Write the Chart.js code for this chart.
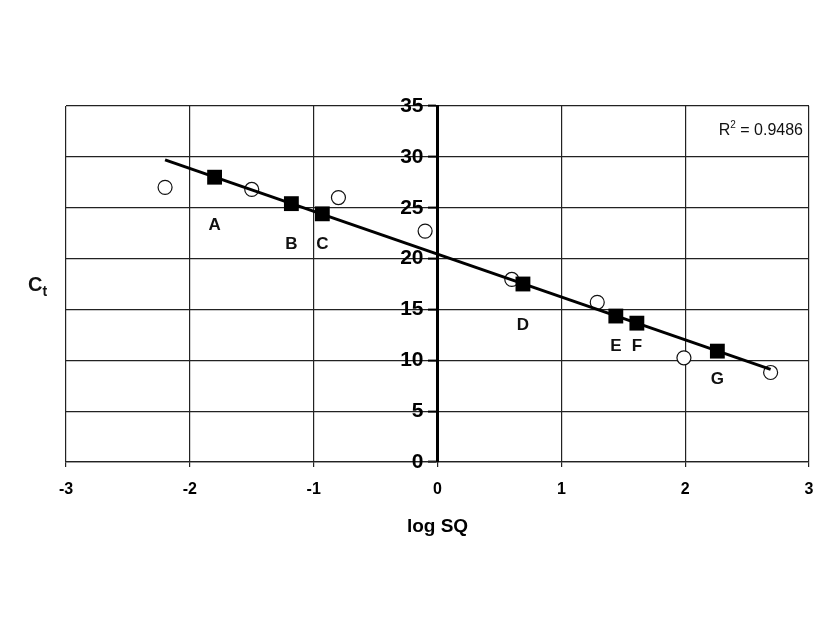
<!DOCTYPE html>
<html>
<head>
<meta charset="utf-8">
<script src="https://cdn.jsdelivr.net/npm/chart.js@4/dist/chart.umd.min.js"></script>
<style>
  html, body { margin: 0; padding: 0; background: #fff; }
  #wrap { width: 840px; height: 630px; }
</style>
</head>
<body>
<div id="wrap"><canvas id="ctChart"></canvas></div>
<script>
// Standards (filled squares) with their letters
const stdNames = ["A", "B", "C", "D", "E", "F", "G"];
const stdX = [-1.80, -1.18, -0.93, 0.69, 1.44, 1.61, 2.26];
const stdY = [28.0, 25.4, 24.4, 17.5, 14.35, 13.65, 10.9];
// where the letters sit (data units, under each square)
const nameY = [23.3, 21.4, 21.4, 13.4, 11.4, 11.4, 8.1];

// Samples (open circles)
const sampleX = [-2.2, -1.5, -0.8, -0.1, 0.6, 1.29, 1.99, 2.69];
const sampleY = [27.0, 26.8, 26.0, 22.7, 17.95, 15.7, 10.24, 8.8];

// Linear trend line end points
const trendX = [-2.2, 2.69];
const trendY = [29.7, 9.1];

const rSquared = "0.9486";
const xTicks = [-3, -2, -1, 0, 1, 2, 3];
const yTicks = [0, 5, 10, 15, 20, 25, 30, 35];

const FONT = "'Liberation Sans', Arial, sans-serif";

const toPoints = (xs, ys) => xs.map((x, i) => ({ x: x, y: ys[i] }));

// Letters, R² text and the C_t axis title
const annotations = {
  id: "annotations",
  afterDatasetsDraw(chart) {
    const { ctx, scales: { x, y }, chartArea } = chart;
    ctx.save();
    ctx.fillStyle = "#111";

    // A..G labels
    ctx.font = "bold 17px " + FONT;
    ctx.textAlign = "center";
    ctx.textBaseline = "middle";
    stdNames.forEach((n, i) => {
      ctx.fillText(n, x.getPixelForValue(stdX[i]), y.getPixelForValue(nameY[i]));
    });

    // R² = ...
    ctx.textBaseline = "alphabetic";
    ctx.textAlign = "left";
    const rest = " = " + rSquared;
    ctx.font = "16px " + FONT;
    const wR = ctx.measureText("R").width;
    const wRest = ctx.measureText(rest).width;
    ctx.font = "10px " + FONT;
    const w2 = ctx.measureText("2").width;
    const right = chartArea.right - 6;
    const base = chartArea.top + 29;
    let px = right - wR - w2 - wRest;
    ctx.font = "16px " + FONT;
    ctx.fillText("R", px, base);
    px += wR;
    ctx.font = "10px " + FONT;
    ctx.fillText("2", px, base - 7);
    px += w2;
    ctx.font = "16px " + FONT;
    ctx.fillText(rest, px, base);

    // C_t title
    ctx.font = "bold 20px " + FONT;
    ctx.fillText("C", 28, 291);
    const wC = ctx.measureText("C").width;
    ctx.font = "bold 14px " + FONT;
    ctx.fillText("t", 28 + wC, 296);
    ctx.restore();
  }
};

const ctx = document.getElementById("ctChart").getContext("2d");
new Chart(ctx, {
  type: "scatter",
  data: {
    datasets: [
      {
        label: "Standards",
        data: toPoints(stdX, stdY),
        pointStyle: "rect",
        pointRadius: 10.5,
        backgroundColor: "#000",
        borderColor: "#000",
        borderWidth: 0
      },
      {
        label: "Trend",
        type: "line",
        data: toPoints(trendX, trendY),
        borderColor: "#000",
        borderWidth: 3,
        pointRadius: 0,
        fill: false
      },
      {
        label: "Samples",
        data: toPoints(sampleX, sampleY),
        pointStyle: "circle",
        pointRadius: 7,
        backgroundColor: "#fff",
        borderColor: "#111",
        borderWidth: 1.2
      }
    ]
  },
  options: {
    responsive: true,
    maintainAspectRatio: false,
    animation: false,
    layout: { padding: { left: 66, right: 31, top: 106, bottom: 88 } },
    plugins: {
      legend: { display: false },
      tooltip: { enabled: false }
    },
    scales: {
      x: {
        type: "linear",
        position: "bottom",
        min: -3,
        max: 3,
        afterBuildTicks: (axis) => { axis.ticks = xTicks.map(v => ({ value: v })); },
        grid: {
          color: "#222",
          lineWidth: 1.2,
          tickLength: 5,
          tickColor: "#222",
          tickWidth: 1.2
        },
        border: { display: true, color: "#222", width: 1.2 },
        ticks: {
          color: "#000",
          padding: 13,
          font: { family: FONT, size: 16, weight: "bold" }
        },
        title: {
          display: true,
          text: "log SQ",
          color: "#000",
          padding: { top: 3, bottom: 4 },
          font: { family: FONT, size: 19, weight: "bold" }
        }
      },
      y: {
        type: "linear",
        // x range is symmetric, so the centre of the plot is x = 0
        position: "center",
        min: 0,
        max: 35,
        afterBuildTicks: (axis) => { axis.ticks = yTicks.map(v => ({ value: v })); },
        grid: {
          color: "#222",
          lineWidth: 1.2,
          tickLength: 8,
          tickColor: "#000",
          tickWidth: 2
        },
        border: { display: true, color: "#000", width: 3 },
        ticks: {
          color: "#000",
          padding: 6,
          font: { family: FONT, size: 21, weight: "bold" }
        }
      }
    }
  },
  plugins: [annotations]
});
</script>
</body>
</html>
